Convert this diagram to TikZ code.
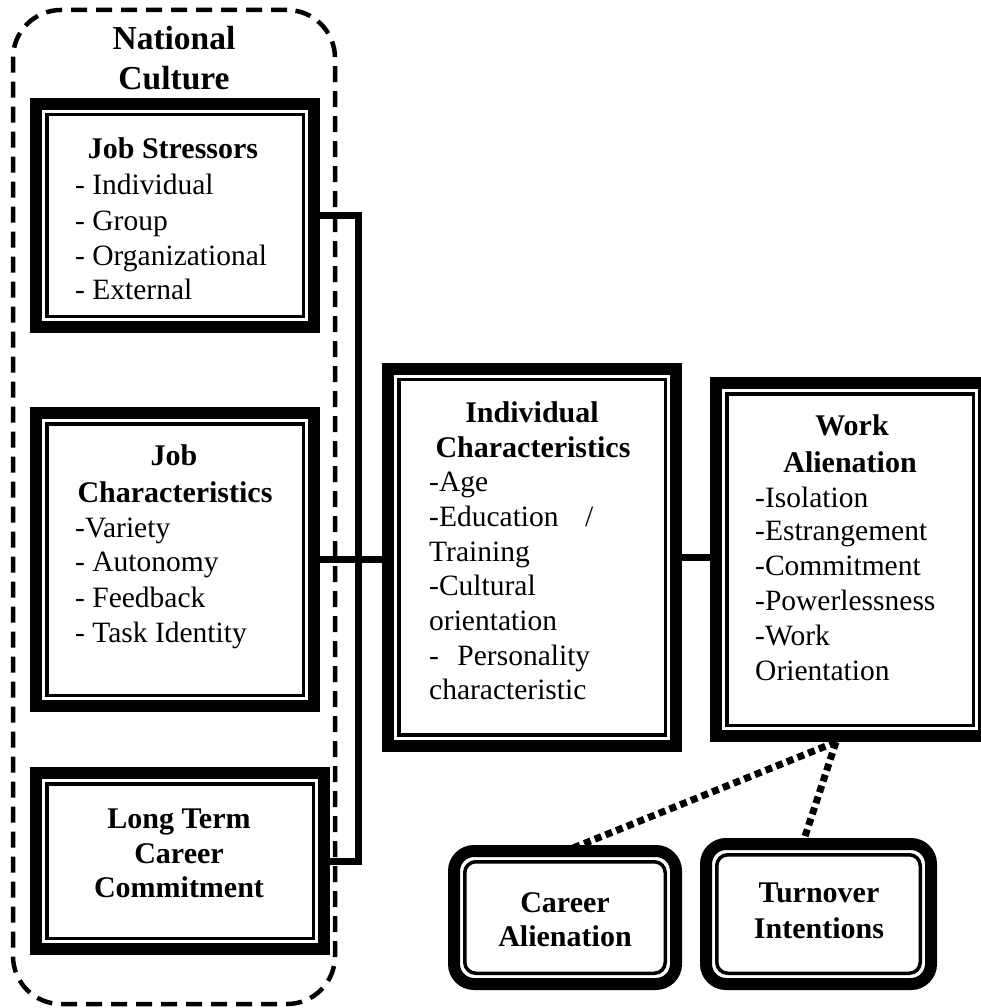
\documentclass[tikz,border=0pt]{standalone}
\usepackage{fontspec}
\setmainfont{Liberation Serif}
\begin{document}
\begin{tikzpicture}[x=1pt,y=-1pt,
  nc/.style={draw, line width=4.5pt, dash pattern=on 16pt off 9pt, rounded corners=48pt, inner sep=0pt},
  box/.style={draw, fill=white, line width=12pt, inner sep=0pt,
    path picture={\draw[line width=3.5pt] ([shift={(10.75pt,-10.75pt)}]path picture bounding box.north west) rectangle ([shift={(-10.75pt,10.75pt)}]path picture bounding box.south east);}},
  rbox/.style={draw, fill=white, line width=12pt, inner sep=0pt, rounded corners=20pt,
    path picture={\draw[line width=3.5pt, rounded corners=11pt] ([shift={(10.75pt,-10.75pt)}]path picture bounding box.north west) rectangle ([shift={(-10.75pt,10.75pt)}]path picture bounding box.south east);}},
  conn/.style={line width=7pt},
  dots/.style={line width=7pt, dash pattern=on 7pt off 4.5pt},
  ttlL/.style={font=\fontsize{33.5}{38}\selectfont\bfseries, inner sep=0pt, anchor=base},
  ttl/.style={font=\fontsize{30}{35}\selectfont\bfseries, inner sep=0pt, anchor=base},
  itm/.style={font=\fontsize{29.5}{35}\selectfont, inner sep=0pt, anchor=base west}]
\useasboundingbox (0,0) rectangle (980,1008);

% container
\node[nc, minimum width=322pt, minimum height=994pt] (nc) at (174,507) {};
\node[ttlL] (nct1) at (174,50) {National};
\node[ttlL] (nct2) at (174,90) {Culture};

% coordinates for connectors
\coordinate (bt) at (358,215.5);
\coordinate (bb) at (358,861);
\coordinate (wo) at (836,742);

% boxes
\node[box, minimum width=278pt, minimum height=223pt] (js) at (175,215.5) {};
\node[box, minimum width=278pt, minimum height=293pt] (jc) at (175,559.5) {};
\node[box, minimum width=288pt, minimum height=176pt] (lt) at (180,861) {};
\node[box, minimum width=288pt, minimum height=377pt] (ic) at (532,557) {};
\node[box, minimum width=268pt, minimum height=353pt] (wa) at (850,559.5) {};
\node[rbox, minimum width=222pt, minimum height=133pt] (ca) at (565,917.5) {};
\node[rbox, minimum width=225pt, minimum height=140pt] (ti) at (818.5,914) {};

% connectors
\draw[conn] (js.east) -- (bt) -- (bb) -- (lt.east);
\draw[conn] (jc.east) -- (jc.east -| ic.west);
\draw[conn] (ic.east) -- (ic.east -| wa.west);
\draw[dots] (wo) -- ([xshift=8pt,yshift=-3pt]ca.north);
\draw[dots] (wo) -- ([xshift=-15pt,yshift=-3pt]ti.north);

% Job Stressors
\node[ttl] (js0) at (173,159) {Job Stressors};
\node[itm] (js1) at (75,195) {- Individual};
\node[itm] (js2) at (75,230) {- Group};
\node[itm] (js3) at (75,265) {- Organizational};
\node[itm] (js4) at (75,299) {- External};

% Job Characteristics
\node[ttl] (jc0) at (174,465) {Job};
\node[ttl] (jc00) at (175,502) {Characteristics};
\node[itm] (jc1) at (75,537) {-Variety};
\node[itm] (jc2) at (75,571) {- Autonomy};
\node[itm] (jc3) at (75,607) {- Feedback};
\node[itm] (jc4) at (75,642) {- Task Identity};

% Long Term Career Commitment
\node[ttl] (lt1) at (179,828) {Long Term};
\node[ttl] (lt2) at (179,863) {Career};
\node[ttl] (lt3) at (179,897) {Commitment};

% Individual Characteristics
\node[ttl] (ic0) at (532,422) {Individual};
\node[ttl] (ic00) at (533,457) {Characteristics};
\node[itm] (ic1) at (429,491) {-Age};
\node[itm] (ic2) at (429,526) {\makebox[164pt][s]{-Education /}};
\node[itm] (ic3) at (429,561) {Training};
\node[itm] (ic4) at (429,595) {-Cultural};
\node[itm] (ic5) at (429,630) {orientation};
\node[itm] (ic6) at (429,665) {\makebox[161pt][s]{- Personality}};
\node[itm] (ic7) at (429,699) {characteristic};

% Work Alienation
\node[ttl] (wa0) at (852,435) {Work};
\node[ttl] (wa00) at (850,472) {Alienation};
\node[itm] (wa1) at (755,507) {-Isolation};
\node[itm] (wa2) at (755,540) {-Estrangement};
\node[itm] (wa3) at (755,575) {-Commitment};
\node[itm] (wa4) at (755,610) {-Powerlessness};
\node[itm] (wa5) at (755,645) {-Work};
\node[itm] (wa6) at (755,680) {Orientation};

% Career Alienation / Turnover Intentions
\node[ttl] (ca1) at (565,912) {Career};
\node[ttl] (ca2) at (565,946) {Alienation};
\node[ttl] (ti1) at (819,902) {Turnover};
\node[ttl] (ti2) at (819,938) {Intentions};
\end{tikzpicture}
\end{document}
